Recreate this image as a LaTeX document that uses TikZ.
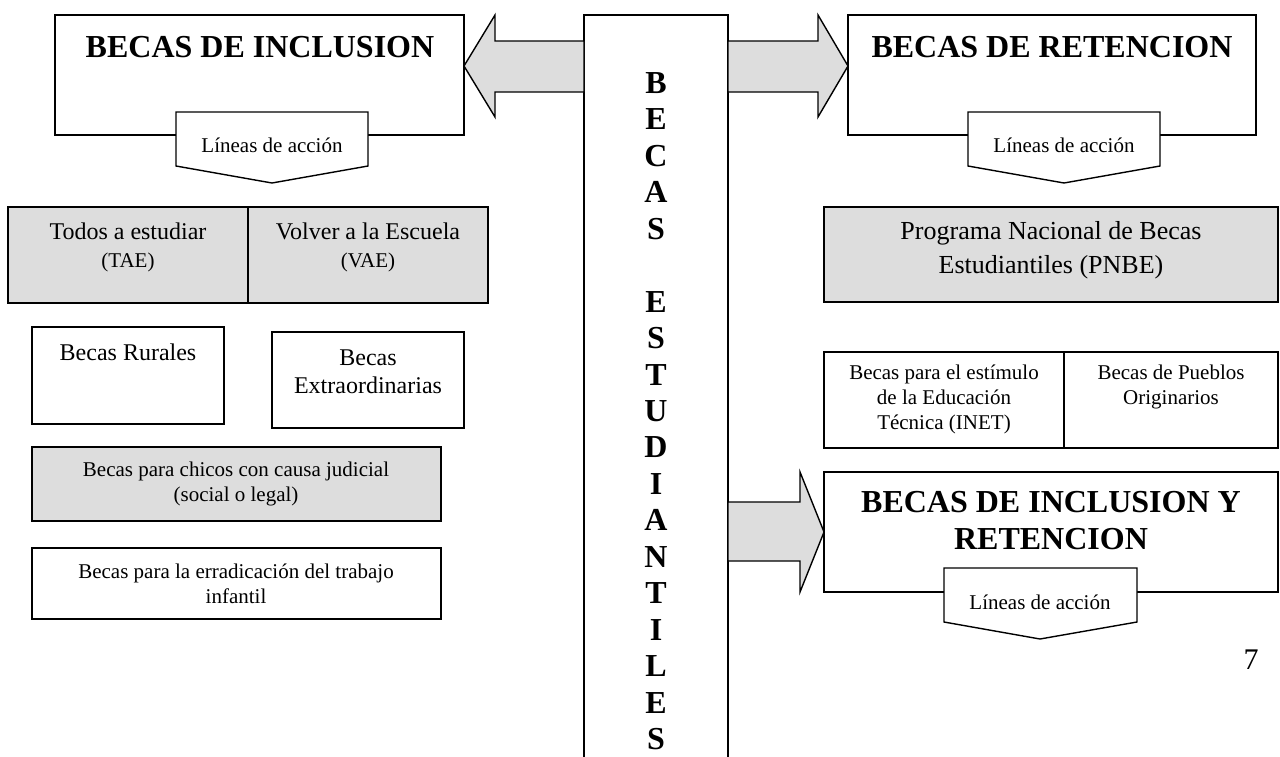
\documentclass[tikz,border=0pt]{standalone}
\usepackage{fontspec}
\setmainfont{Liberation Serif}
\usetikzlibrary{fit}
\definecolor{boxgrey}{HTML}{DDDDDD}
\tikzset{
  box/.style={draw, line width=0.7pt, inner sep=0pt, outer sep=0pt, fill=white},
  greybox/.style={box, fill=boxgrey},
  tabshape/.style={draw, line width=0.7pt, fill=white},
  blockarrow/.style={draw, line width=0.7pt, fill=boxgrey},
  title/.style={font=\bfseries\fontsize{16}{18.5}\selectfont, align=center, inner sep=0pt},
  body/.style={font=\fontsize{12}{14}\selectfont, align=center, inner sep=0pt},
  bigbody/.style={font=\fontsize{13}{17}\selectfont, align=center, inner sep=0pt},
  smalltext/.style={font=\fontsize{10.5}{12.5}\selectfont, align=center, inner sep=0pt},
  letter/.style={font=\bfseries\fontsize{16}{18}\selectfont, inner sep=0pt}
}
\begin{document}
\begin{tikzpicture}[x=0.5pt, y=-0.5pt]
\useasboundingbox (0,0) rectangle (1280,756);
% boxes
\node[box, fit={(55,15) (464,135)}] (inclusion) {};
\node[box, fit={(848,15) (1256,135)}] (retencion) {};
\node[box, fit={(584,15) (728,764)}] (centre) {};
\node[greybox, fit={(8,207) (248,303)}] (tae) {};
\node[greybox, fit={(248,207) (488,303)}] (vae) {};
\node[box, fit={(32,327) (224,424)}] (rurales) {};
\node[box, fit={(272,332) (464,428)}] (extra) {};
\node[greybox, fit={(32,447) (441,521)}] (judicial) {};
\node[box, fit={(32,548) (441,619)}] (trabajo) {};
\node[greybox, fit={(824,207) (1278,302)}] (pnbe) {};
\node[box, fit={(824,352) (1064,448)}] (inet) {};
\node[box, fit={(1064,352) (1278,448)}] (pueblos) {};
\node[box, fit={(824,472) (1278,592)}] (mixta) {};
% block arrows
\draw[blockarrow] (centre.west |- 0,41) -- (495,41) -- (495,15) -- (inclusion.east |- 0,66)
  -- (495,117) -- (495,92) -- (centre.west |- 0,92) -- cycle;
\draw[blockarrow] (centre.east |- 0,41) -- (818,41) -- (818,15) -- (retencion.west |- 0,66)
  -- (818,117) -- (818,92) -- (centre.east |- 0,92) -- cycle;
\draw[blockarrow] (centre.east |- 0,502) -- (800,502) -- (800,472) -- (mixta.west)
  -- (800,592) -- (800,561) -- (centre.east |- 0,561) -- cycle;
% tabs
\draw[tabshape] (176,112) -- (368,112) -- (368,166) -- (272,183) -- (176,166) -- cycle;
\draw[tabshape] (968,112) -- (1160,112) -- (1160,166) -- (1064,183) -- (968,166) -- cycle;
\draw[tabshape] (944,568) -- (1137,568) -- (1137,622) -- (1040,639) -- (944,622) -- cycle;
\node[smalltext] (tabinclusion) at (272,145) {Líneas de acción};
\node[smalltext] (tabretencion) at (1064,145) {Líneas de acción};
\node[smalltext] (tabmixta) at (1040,602) {Líneas de acción};
% titles
\node[title] (inclusiontitle) at (260,47) {BECAS DE INCLUSION};
\node[title] (retenciontitle) at (1052,47) {BECAS DE RETENCION};
\node[title] (mixtatitle) at (1051,521) {BECAS DE INCLUSION Y\\RETENCION};
% vertical word
\foreach \ltr/\row in {B/0,E/1,C/2,A/3,S/4,E/6,S/7,T/8,U/9,D/10,I/11,A/12,N/13,T/14,I/15,L/16,E/17,S/18}
  \node[letter] (letter\row) at (656,{83+36.45*\row}) {\ltr};
% box texts
\node[body] (taetext) at (128,247) {Todos a estudiar\\{\fontsize{10.5}{13}\selectfont (TAE)}};
\node[body] (vaetext) at (368,247) {Volver a la Escuela\\{\fontsize{10.5}{13}\selectfont (VAE)}};
\node[body] (ruralestext) at (128,352) {Becas Rurales};
\node[body] (extratext) at (368,372) {Becas\\Extraordinarias};
\node[smalltext] (judicialtext) at (236,484) {Becas para chicos con causa judicial\\(social o legal)};
\node[smalltext] (trabajotext) at (236,584) {Becas para la erradicación del trabajo\\infantil};
\node[bigbody] (pnbetext) at (1051,250) {Programa Nacional de Becas\\Estudiantiles (PNBE)};
\node[smalltext] (inettext) at (944,399) {Becas para el estímulo\\de la Educación\\Técnica (INET)};
\node[smalltext] (pueblostext) at (1171,387) {Becas de Pueblos\\Originarios};
\node[font=\fontsize{15}{18}\selectfont, inner sep=0pt] (pagenum) at (1251,660) {7};
\end{tikzpicture}
\end{document}
